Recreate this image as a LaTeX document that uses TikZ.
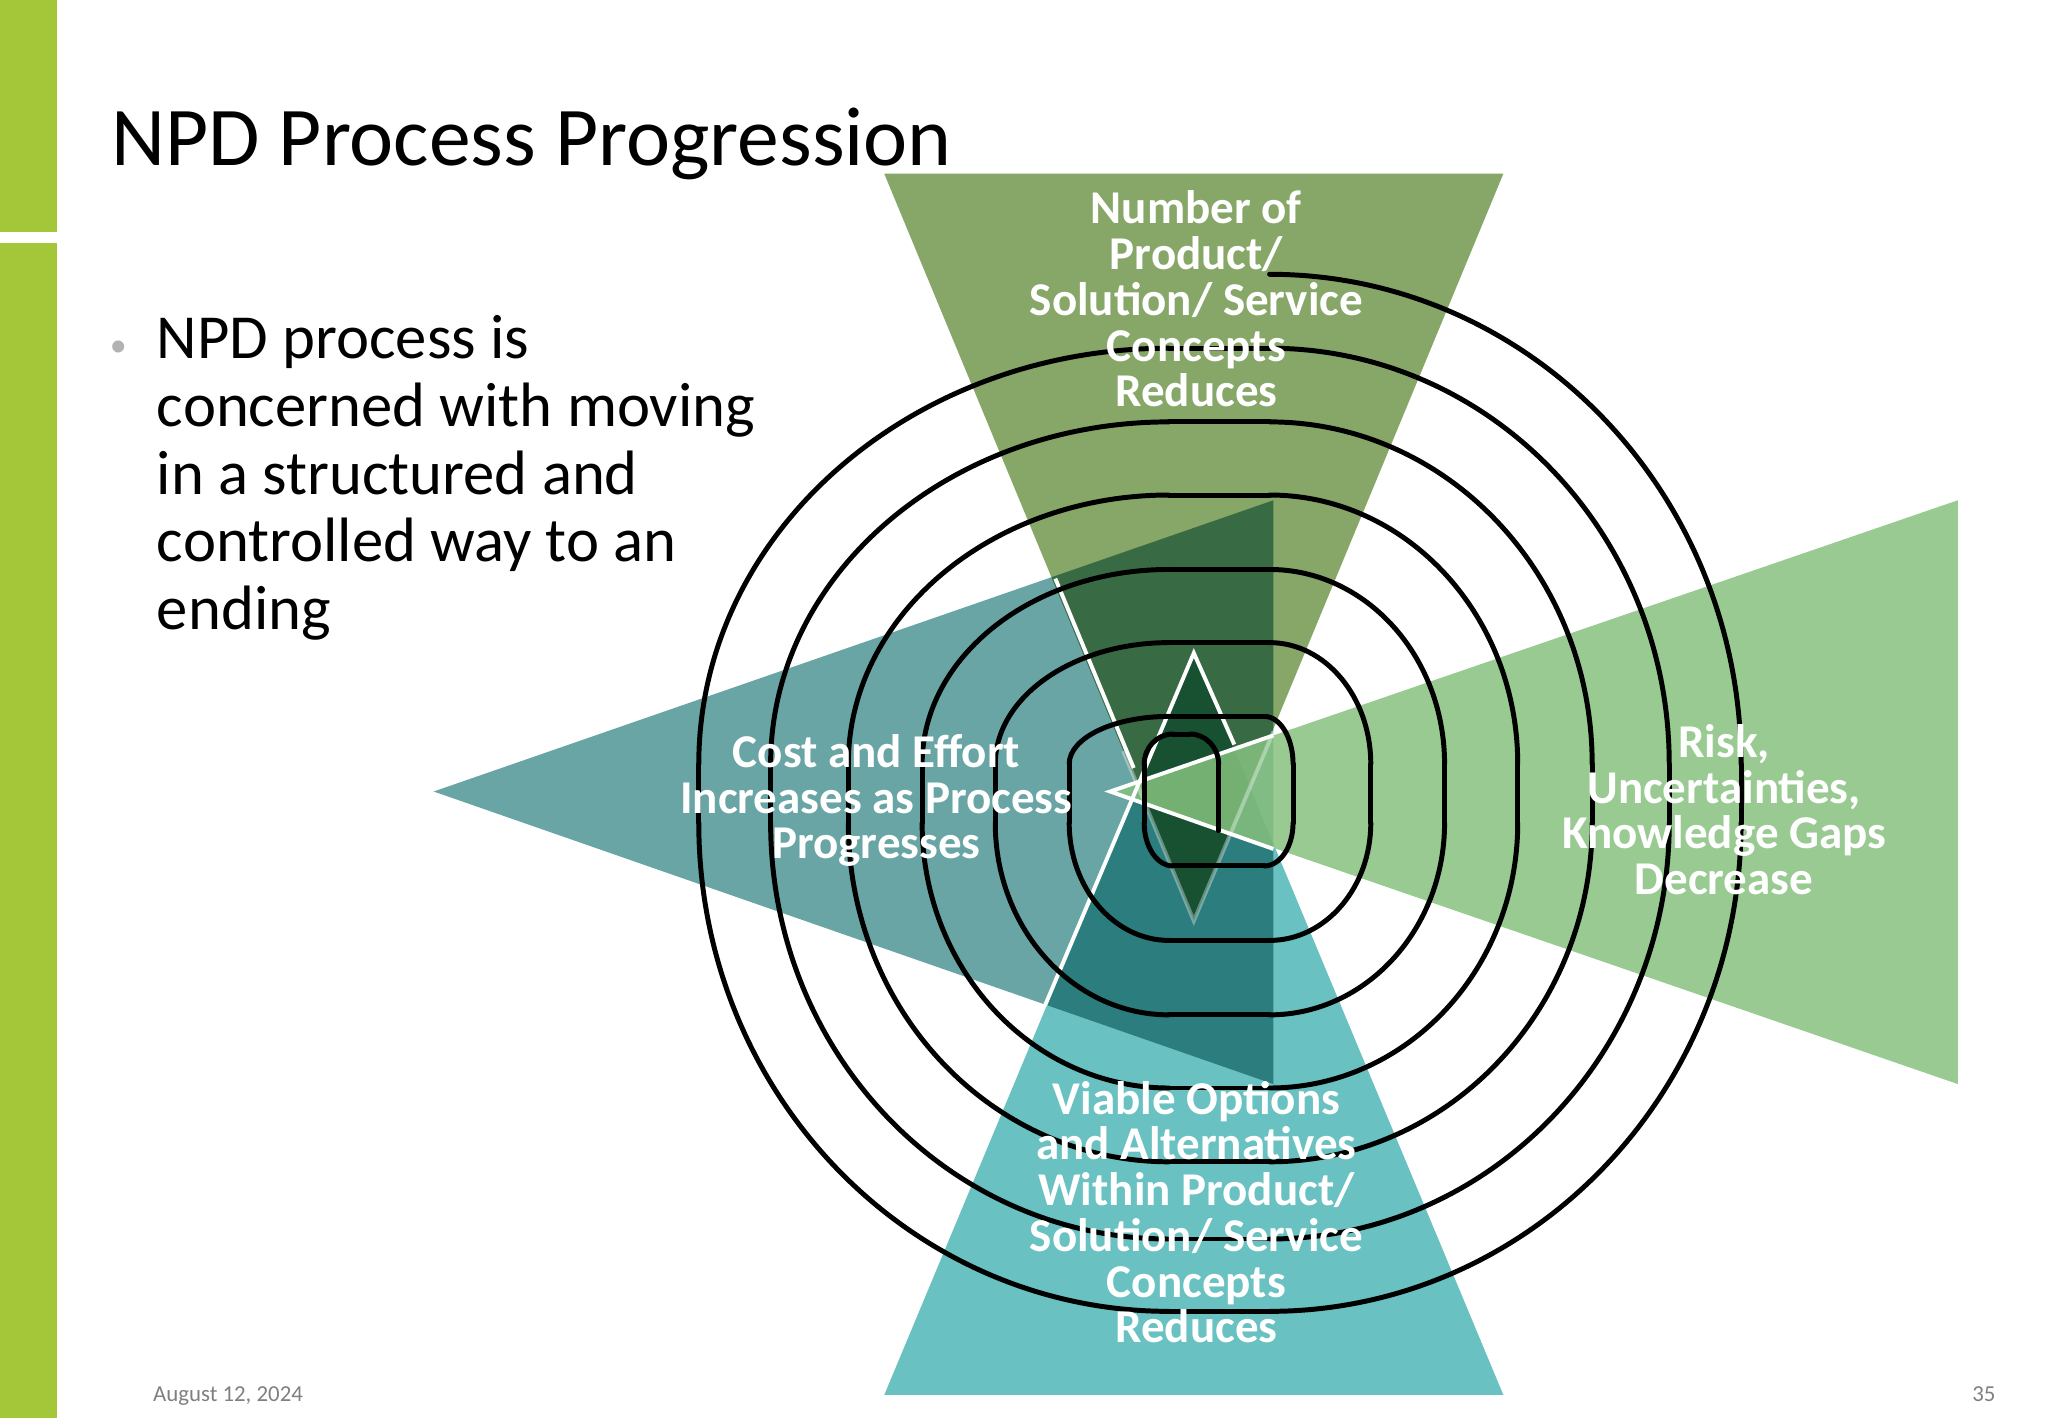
\documentclass[tikz,border=0pt]{standalone}
\usepackage{fontspec}
\usetikzlibrary{calc}
\setmainfont{Carlito}
\definecolor{barg}{HTML}{A4C639}
\definecolor{topc}{HTML}{84A564}
\definecolor{leftc}{HTML}{66A3A3}
\definecolor{botc}{HTML}{66C0BF}
\definecolor{rightc}{HTML}{86C17F}
\begin{document}
\begin{tikzpicture}[x=1pt,y=-1pt,
  ring/.style={draw=black,line width=3.8pt,line cap=round},
  lab/.style={text=white,font=\fontsize{36}{35}\selectfont\bfseries,align=center},
  edge/.style={white,line width=3pt}]
\useasboundingbox (0,0) rectangle (1568,1086);
\fill[white] (0,0) rectangle (1568,1086);
\fill[barg] (0,0) rectangle (44,178);
\fill[barg] (0,186) rectangle (44,1086);
\node[anchor=base west,font=\fontsize{64}{66}\selectfont,inner sep=0pt] (title) at (85,127) {NPD Process Progression};
\node[anchor=base west,font=\fontsize{26}{26}\selectfont,text=gray!60,inner sep=0pt] (bul) at (84,273) {•};
\node[anchor=north west,align=left,font=\fontsize{48}{52}\selectfont,inner sep=0pt] (txt) at (120,241)
 {NPD process is\\concerned with moving\\in a structured and\\controlled way to an\\ending};
\node[anchor=base west,font=\fontsize{17.5}{18}\selectfont,text=gray,inner sep=0pt] (date) at (117,1073) {August 12, 2024};
\node[anchor=base east,font=\fontsize{17.5}{18}\selectfont,text=gray,inner sep=0pt] (pg) at (1528,1073) {35};
\begin{scope}[blend mode=multiply]
\fill[topc,fill opacity=0.97] (677,133) -- (1151,133) -- (914,705) -- cycle;
\fill[botc,fill opacity=0.97] (677,1068) -- (1151,1068) -- (914,500) -- cycle;
\fill[leftc,fill opacity=0.97] (332,606) -- (975,383) -- (975,830) -- cycle;
\end{scope}
\fill[rightc,fill opacity=0.85] (850,606) -- (1499,383) -- (1499,830) -- cycle;
\draw[edge,opacity=0.35] (860,575) -- (914,705) -- (975,560);
\draw[edge] (808,443) -- (868,588);
\draw[edge] (800,770) -- (914,500) -- (945,570);
\draw[edge] (975,563) -- (850,606) -- (975,650);
% spiral
\coordinate (S) at (933,636);
\foreach \X/\Y/\hx/\vy/\m [count=\i] in {
 933/562/-1/1/0, 876/562/1/1/1, 876/663/1/-1/0, 990/663/-1/-1/1,
 990/548.5/-1/1/0, 818.6/548.5/1/1/1, 818.6/720/1/-1/0, 1049.5/720/-1/-1/1,
 1049.5/492/-1/1/0, 762/492/1/1/1, 762/777/1/-1/0, 1106/777/-1/-1/1,
 1106/436/-1/1/0, 706/436/1/1/1, 706/833/1/-1/0, 1162/833/-1/-1/1,
 1162/379/-1/1/0, 649.5/379/1/1/1, 649.5/889.5/1/-1/0, 1219/889.5/-1/-1/1,
 1219/323/-1/1/0, 590/323/1/1/1, 590/948.6/1/-1/0, 1278/948.6/-1/-1/1,
 1278/266.6/-1/1/0, 535/266.6/1/1/1, 535/1004/1/-1/0, 1333/1004/-1/-1/1,
 1333/210/-1/1/0}{
 \pgfmathsetmacro\rx{max(ifthenelse(\hx==1,895-\X,\X-972),22)}
 \pgfmathsetmacro\ry{max(ifthenelse(\vy==1,585-\Y,\Y-630),22)}
 \pgfmathsetmacro\Hx{\X+\hx*\rx}
 \pgfmathsetmacro\Vy{\Y+\vy*\ry}
 \coordinate (H\i) at (\Hx,\Y);
 \coordinate (V\i) at (\X,\Vy);
 \coordinate (C\i) at (\X,\Y);
 \ifnum\m=1
   \coordinate (A\i) at (H\i); \coordinate (B\i) at (V\i);
 \else
   \coordinate (A\i) at (V\i); \coordinate (B\i) at (H\i);
 \fi
 \draw[ring] (A\i) .. controls ($(A\i)!0.5523!(C\i)$) and ($(B\i)!0.5523!(C\i)$) .. (B\i);
}
\draw[ring] (S) -- (A1);
\foreach \i [evaluate=\i as \j using int(\i+1)] in {1,...,28}{
 \draw[ring] (B\i) -- (A\j);
}
% labels
\node[lab] (n1) at (916,229) {Number of\\Product/\\Solution/ Service\\Concepts\\Reduces};
\node[lab] (n2) at (671,613) {Cost and Effort\\Increases as Process\\Progresses};
\node[lab] (n3) at (1320,620) {Risk,\\Uncertainties,\\Knowledge Gaps\\Decrease};
\node[lab] (n4) at (916,928) {Viable Options\\and Alternatives\\Within Product/\\Solution/ Service\\Concepts\\Reduces};
\end{tikzpicture}
\end{document}
